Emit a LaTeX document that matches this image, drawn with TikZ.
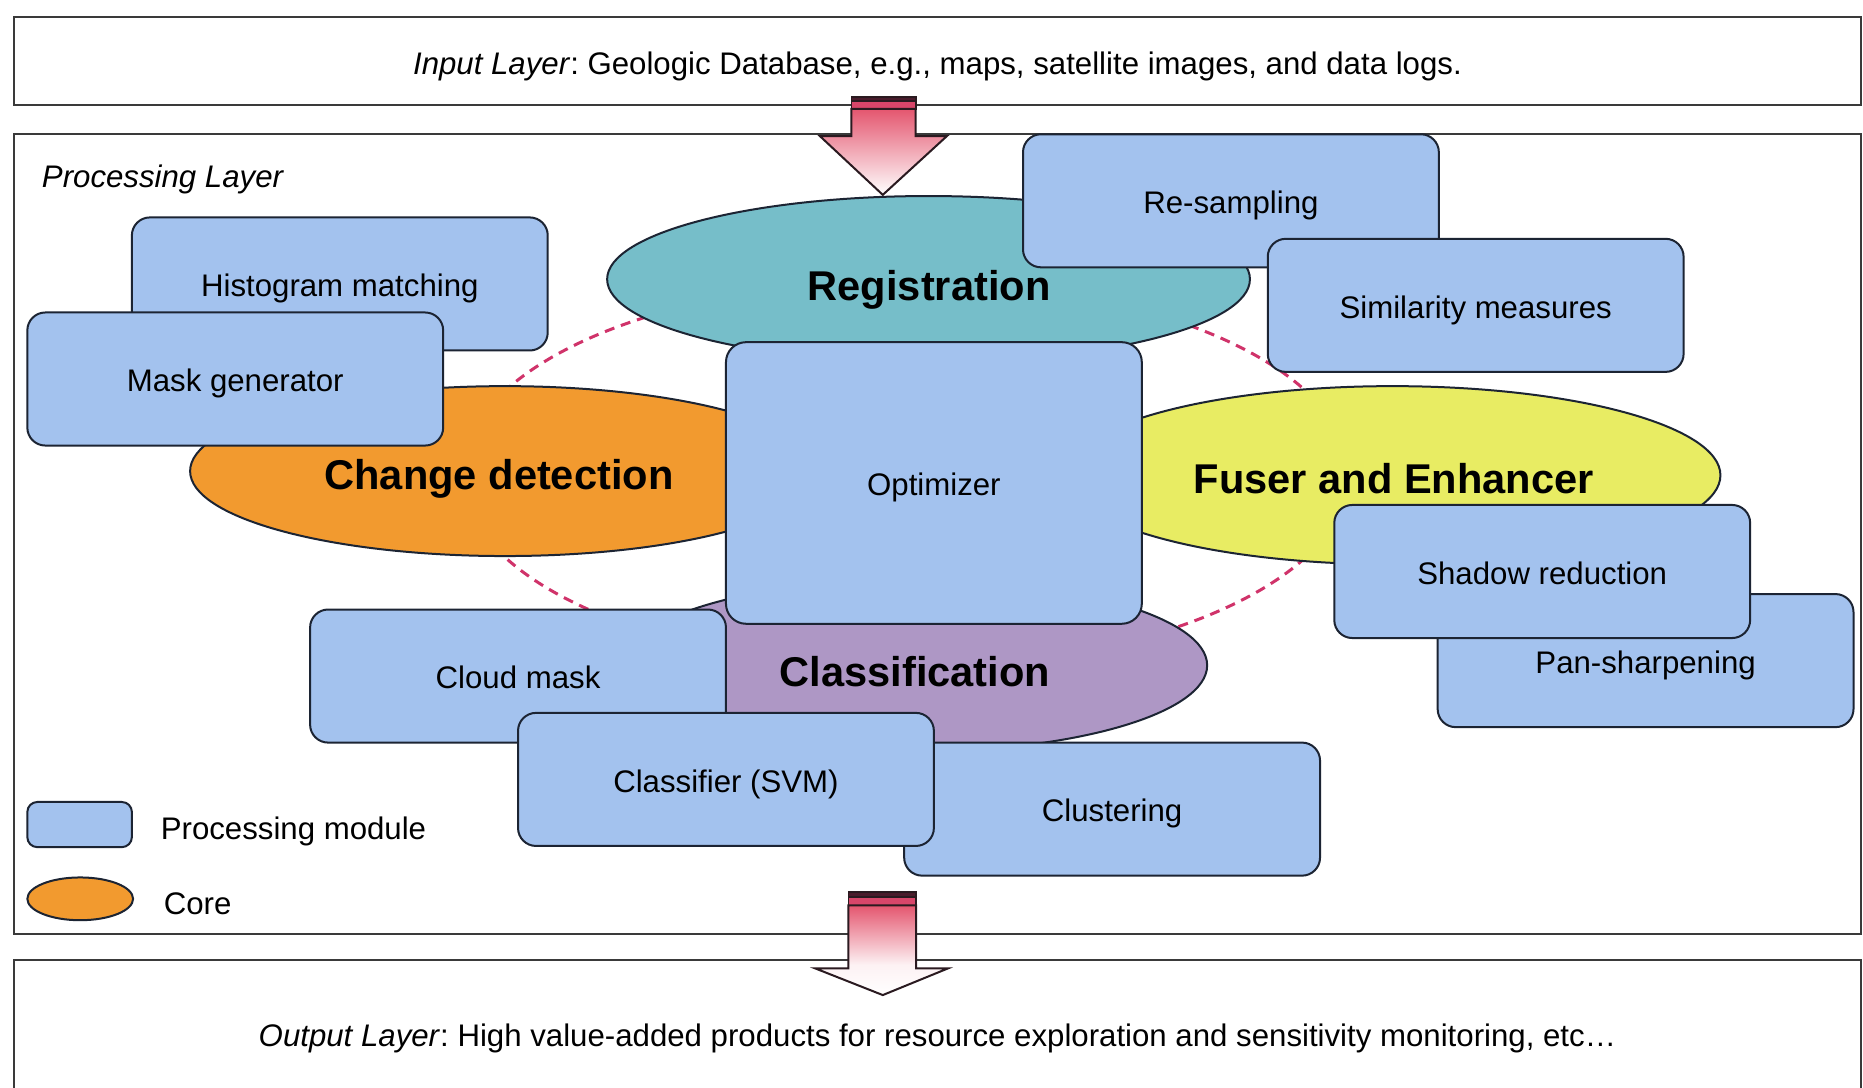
\documentclass[tikz,border=0pt]{standalone}
\usepackage{fontspec}
\setmainfont{Liberation Sans}
\usetikzlibrary{shapes.geometric}

% one drawing unit
\newcommand{\pxu}{0.594pt}
\newcommand{\regfont}{\fontsize{15.6pt}{18pt}\selectfont\frenchspacing}
\newcommand{\corefont}{\fontsize{20.8pt}{24pt}\selectfont\bfseries}

\definecolor{modfill}{HTML}{A3C2EE}
\definecolor{modline}{HTML}{1C2433}
\definecolor{regcol}{HTML}{76BEC9}
\definecolor{chgcol}{HTML}{F29A2F}
\definecolor{fuscol}{HTML}{E8EC63}
\definecolor{clscol}{HTML}{AE97C5}
\definecolor{ringcol}{HTML}{D0336A}
\definecolor{arrowred}{HTML}{E4566F}
\definecolor{arrowline}{HTML}{2A1A20}
\definecolor{capdark}{HTML}{4A1C2C}
\definecolor{capred}{HTML}{D8466A}
\definecolor{layerline}{HTML}{3A3A3A}

\pgfdeclareverticalshading{outarrowshade}{100bp}{color(0bp)=(white); color(25bp)=(white); color(42bp)=(arrowred!8); color(75bp)=(arrowred); color(100bp)=(arrowred)}

\begin{document}
\begin{tikzpicture}[x=\pxu, y=-\pxu,
  layer/.style={draw=layerline, line width=1pt, fill=white, inner sep=0pt, minimum width=1554*\pxu},
  module/.style={draw=modline, line width=1pt, fill=modfill, rounded corners=9pt,
    minimum width=350*\pxu, minimum height=112*\pxu, inner sep=0pt, font=\regfont,
    text height=12.8pt, text depth=0pt},
  core/.style={ellipse, draw=modline, line width=1pt, inner sep=0pt},
  corelbl/.style={font=\corefont, inner sep=0pt},
  lbl/.style={font=\regfont, inner sep=0pt, text height=11.8pt, text depth=0pt},
  ring/.style={ellipse, draw=ringcol, line width=1.5pt, dash pattern=on 5pt off 3.5pt, inner sep=0pt},
  capband/.style={draw=arrowline, line width=0.8pt},
  blockarrow/.style={draw=arrowline, line width=1pt}
]
\useasboundingbox (0,0) rectangle (1568,915);
\clip (0,0) rectangle (1568,915);

% the three layers
\node[layer, minimum height=74*\pxu] (input) at (789,51) {};
\node[lbl] (intext) at (789,53) {\textit{Input Layer}: Geologic Database, e.g., maps, satellite images, and data logs.};
\node[layer, minimum height=673*\pxu] (proc) at (789,449.5) {};
\node[lbl, anchor=west] (proctext) at (35,148) {\textit{Processing Layer}};
\node[layer, minimum height=130*\pxu] (output) at (789,873) {};
\node[lbl] (outtext) at (789,871) {\textit{Output Layer}: High value-added products for resource exploration and sensitivity monitoring, etc…};

% dashed ring joining the cores
\node[ring, minimum width=746*\pxu, minimum height=326*\pxu] (ring) at (762,399) {};

% cores
\node[core, fill=regcol, minimum width=541*\pxu, minimum height=140*\pxu] (reg) at (781.5,235) {};
\node[corelbl] (reglbl) at (782,244) {Registration};
\node[core, fill=chgcol, minimum width=530*\pxu, minimum height=143*\pxu] (chg) at (425,396.5) {};
\node[corelbl] (chglbl) at (420,403) {Change detection};
\node[core, fill=fuscol, minimum width=552*\pxu, minimum height=150*\pxu] (fus) at (1172,400) {};
\node[corelbl] (fuslbl) at (1173,403) {Fuser and Enhancer};
\node[core, fill=clscol, minimum width=492*\pxu, minimum height=145*\pxu] (cls) at (770,560) {};
\node[corelbl] (clslbl) at (770,565) {Classification};

% processing modules, back to front
\node[module] (resamp) at (1036,169) {Re-sampling};
\node[module] (simil) at (1242,257) {Similarity measures};
\node[module] (histo) at (286,239) {Histogram matching};
\node[module] (maskgen) at (198,319) {Mask generator};
\node[module, minimum height=237*\pxu, rounded corners=10pt] (optim) at (786,406.5) {Optimizer};
\node[module] (pansharp) at (1385,556) {Pan-sharpening};
\node[module] (shadow) at (1298,481) {Shadow reduction};
\node[module] (cloud) at (436,569) {Cloud mask};
\node[module] (clust) at (936,681) {Clustering};
\node[module] (svm) at (611,656) {Classifier (SVM)};

% legend
\node[module, minimum width=88*\pxu, minimum height=38*\pxu, rounded corners=5pt] (legmod) at (67,694) {};
\node[lbl, anchor=west] (legmodtext) at (135,697) {Processing module};
\node[core, fill=chgcol, minimum width=89*\pxu, minimum height=36*\pxu] (legcore) at (67.5,756.5) {};
\node[lbl, anchor=west] (legcoretext) at (137.5,760) {Core};

% block arrow: input layer into processing layer
\coordinate (inarrow) at (743,81.6);
\path[capband, fill=capdark] (716.6,81.6) rectangle (770.7,85);
\path[capband, fill=capred] (716.6,85) rectangle (770.7,91.7);
\path[blockarrow, top color=arrowred, bottom color=white]
  (716.6,91.7) -- (770.7,91.7) -- (770.7,114.5) -- (797,114.5) -- (743,164)
  -- (690,114.5) -- (716.6,114.5) -- cycle;

% block arrow: processing layer into output layer
\coordinate (outarrow) at (743,751);
\path[capband, fill=capdark] (714,751) rectangle (771,755);
\path[capband, fill=capred] (714,755) rectangle (771,762);
\path[blockarrow, shading=outarrowshade]
  (714,762) -- (771,762) -- (771,815) -- (798,815) -- (743,837.5)
  -- (686,815) -- (714,815) -- cycle;
\end{tikzpicture}
\end{document}
